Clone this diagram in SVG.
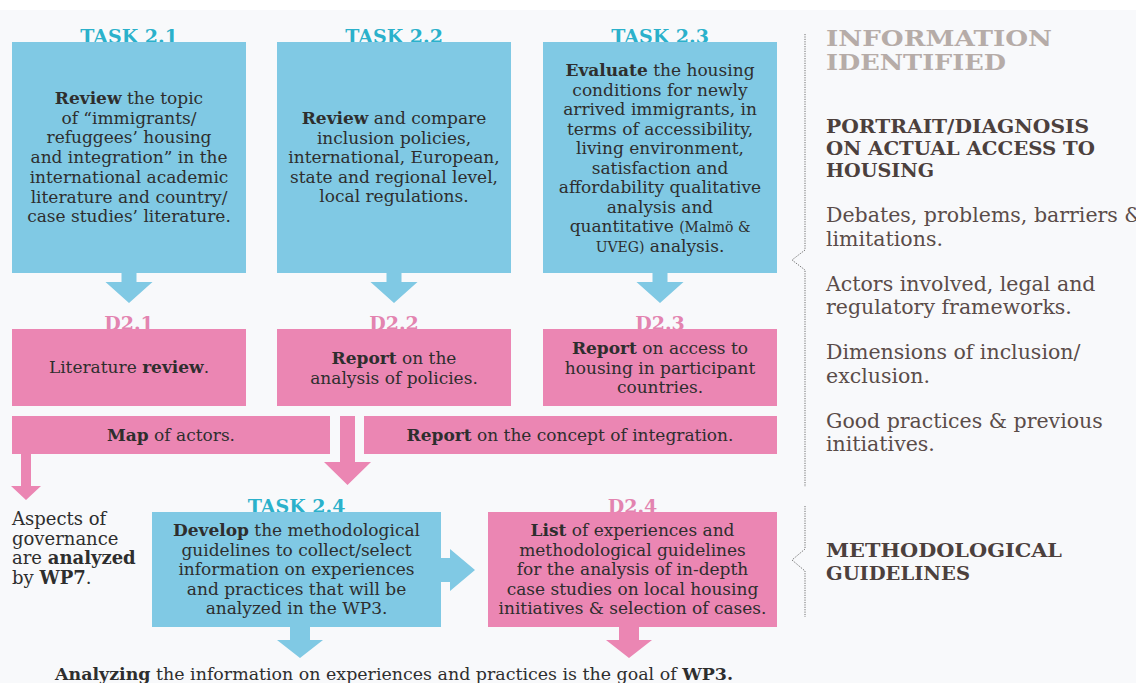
<svg xmlns="http://www.w3.org/2000/svg" width="1136" height="683" viewBox="0 0 1136 683">
<style>
.bg{fill:#f8f9fb}
.task{fill:#80c9e4}
.deliv{fill:#eb86b3}
.tl{font-family:"DejaVu Serif",serif;font-weight:bold;font-size:19px;fill:#2bb1cb;text-anchor:middle}
.dl{font-family:"DejaVu Serif",serif;font-weight:bold;font-size:19px;fill:#e384b0;text-anchor:middle}
.t{font-family:"DejaVu Serif",serif;font-size:17px;fill:#2e2e2e;text-anchor:middle}
.s{font-size:14px}
.b{font-weight:bold}
.l{font-family:"DejaVu Serif",serif;font-size:18px;fill:#2e2e2e}
.r{font-family:"DejaVu Serif",serif;font-size:20.5px;fill:#5a4c49}
.h{font-family:"DejaVu Serif",serif;font-weight:bold;font-size:18px;fill:#4c403d}
.hi{font-family:"DejaVu Serif",serif;font-weight:bold;font-size:22px;fill:#b6aca8}
.dot{fill:none;stroke:#6f6f6f;stroke-width:1;stroke-dasharray:1.2 1.2}
.ab{fill:#80c9e4}
.ap{fill:#eb86b3}
</style>
<rect x="0" y="0" width="1136" height="683" fill="#ffffff"/>
<rect class="bg" x="0" y="10" width="1136" height="673"/>

<g id="task21">
<text class="tl" x="129" y="43">TASK 2.1</text>
<rect class="task" x="12" y="42" width="234" height="231"/>
<text class="t" x="129" y="104"><tspan class="b">Review</tspan> the topic</text>
<text class="t" x="129" y="123.7">of “immigrants/</text>
<text class="t" x="129" y="143.4">refuggees’ housing</text>
<text class="t" x="129" y="163.1">and integration” in the</text>
<text class="t" x="129" y="182.8">international academic</text>
<text class="t" x="129" y="202.5">literature and country/</text>
<text class="t" x="129" y="222.2">case studies’ literature.</text>
</g>

<g id="task22">
<text class="tl" x="394" y="43">TASK 2.2</text>
<rect class="task" x="277" y="42" width="234" height="231"/>
<text class="t" x="394" y="124"><tspan class="b">Review</tspan> and compare</text>
<text class="t" x="394" y="143.5">inclusion policies,</text>
<text class="t" x="394" y="163">international, European,</text>
<text class="t" x="394" y="182.5">state and regional level,</text>
<text class="t" x="394" y="202">local regulations.</text>
</g>

<g id="task23">
<text class="tl" x="660" y="43">TASK 2.3</text>
<rect class="task" x="543" y="42" width="234" height="231"/>
<text class="t" x="660" y="76"><tspan class="b">Evaluate</tspan> the housing</text>
<text class="t" x="660" y="95.5">conditions for newly</text>
<text class="t" x="660" y="115">arrived immigrants, in</text>
<text class="t" x="660" y="134.5">terms of accessibility,</text>
<text class="t" x="660" y="154">living environment,</text>
<text class="t" x="660" y="173.5">satisfaction and</text>
<text class="t" x="660" y="193">affordability qualitative</text>
<text class="t" x="660" y="212.5">analysis and</text>
<text class="t" x="660" y="232">quantitative <tspan class="s">(Malmö &amp;</tspan></text>
<text class="t" x="660" y="251.5"><tspan class="s">UVEG)</tspan> analysis.</text>
</g>

<g id="d21">
<text class="dl" x="129" y="330">D2.1</text>
<rect class="deliv" x="12" y="329" width="234" height="77"/>
<text class="t" x="129" y="373">Literature <tspan class="b">review</tspan>.</text>
</g>

<g id="d22">
<text class="dl" x="394" y="330">D2.2</text>
<rect class="deliv" x="277" y="329" width="234" height="77"/>
<text class="t" x="394" y="364"><tspan class="b">Report</tspan> on the</text>
<text class="t" x="394" y="383.5">analysis of policies.</text>
</g>

<g id="d23">
<text class="dl" x="660" y="330">D2.3</text>
<rect class="deliv" x="543" y="329" width="234" height="77"/>
<text class="t" x="660" y="354"><tspan class="b">Report</tspan> on access to</text>
<text class="t" x="660" y="373.5">housing in participant</text>
<text class="t" x="660" y="393">countries.</text>
</g>

<g id="map">
<rect class="deliv" x="12" y="416" width="318" height="38"/>
<text class="t" x="171" y="441"><tspan class="b">Map</tspan> of actors.</text>
</g>

<g id="concept">
<rect class="deliv" x="364" y="416" width="413" height="38"/>
<text class="t" x="570" y="441"><tspan class="b">Report</tspan> on the concept of integration.</text>
</g>

<g id="aspects">
<text class="l" x="12" y="525">Aspects of</text>
<text class="l" x="12" y="544.5">governance</text>
<text class="l" x="12" y="564">are <tspan class="b">analyzed</tspan></text>
<text class="l" x="12" y="583.5">by <tspan class="b">WP7</tspan>.</text>
</g>

<g id="task24">
<text class="tl" x="296.5" y="513">TASK 2.4</text>
<rect class="task" x="152" y="512" width="289" height="115"/>
<text class="t" x="296.5" y="536"><tspan class="b">Develop</tspan> the methodological</text>
<text class="t" x="296.5" y="555.5">guidelines to collect/select</text>
<text class="t" x="296.5" y="575">information on experiences</text>
<text class="t" x="296.5" y="594.5">and practices that will be</text>
<text class="t" x="296.5" y="614">analyzed in the WP3.</text>
</g>

<g id="d24">
<text class="dl" x="632.5" y="513">D2.4</text>
<rect class="deliv" x="488" y="512" width="289" height="115"/>
<text class="t" x="632.5" y="536"><tspan class="b">List</tspan> of experiences and</text>
<text class="t" x="632.5" y="555.5">methodological guidelines</text>
<text class="t" x="632.5" y="575">for the analysis of in-depth</text>
<text class="t" x="632.5" y="594.5">case studies on local housing</text>
<text class="t" x="632.5" y="614">initiatives &amp; selection of cases.</text>
</g>

<g id="goal">
<text class="l" x="55" y="680" style="font-size:17px" textLength="678" lengthAdjust="spacingAndGlyphs"><tspan class="b">Analyzing</tspan> the information on experiences and practices is the goal of <tspan class="b">WP3.</tspan></text>
</g>

<g id="info">
<text class="hi" x="826" y="46" textLength="226" lengthAdjust="spacingAndGlyphs">INFORMATION</text>
<text class="hi" x="826" y="70" textLength="180" lengthAdjust="spacingAndGlyphs">IDENTIFIED</text>
</g>

<g id="portrait">
<text class="h" x="826" y="133" textLength="263" lengthAdjust="spacingAndGlyphs">PORTRAIT/DIAGNOSIS</text>
<text class="h" x="826" y="155" textLength="269" lengthAdjust="spacingAndGlyphs">ON ACTUAL ACCESS TO</text>
<text class="h" x="826" y="177" textLength="108" lengthAdjust="spacingAndGlyphs">HOUSING</text>
<text class="r" x="826" y="222">Debates, problems, barriers &amp;</text>
<text class="r" x="826" y="246">limitations.</text>
<text class="r" x="826" y="291">Actors involved, legal and</text>
<text class="r" x="826" y="314">regulatory frameworks.</text>
<text class="r" x="826" y="359">Dimensions of inclusion/</text>
<text class="r" x="826" y="383">exclusion.</text>
<text class="r" x="826" y="428">Good practices &amp; previous</text>
<text class="r" x="826" y="451">initiatives.</text>
</g>

<g id="method">
<text class="h" x="826" y="557" textLength="236" lengthAdjust="spacingAndGlyphs">METHODOLOGICAL</text>
<text class="h" x="826" y="580" textLength="144" lengthAdjust="spacingAndGlyphs">GUIDELINES</text>
</g>

<g id="connectors">
<polygon class="ab" points="121.5,273 136.5,273 136.5,282 152.5,282 129,303 105.5,282 121.5,282"/>
<polygon class="ab" points="386.5,273 401.5,273 401.5,282 417.5,282 394,303 370.5,282 386.5,282"/>
<polygon class="ab" points="652.5,273 667.5,273 667.5,282 683.5,282 660,303 636.5,282 652.5,282"/>
<polygon class="ap" points="340,416 355,416 355,462 371,462 347.5,485 324,462 340,462"/>
<polygon class="ap" points="21,454 31,454 31,486 41,486 26,500 11,486 21,486"/>
<polygon class="ab" points="441,558 450,558 450,549 475,570 450,591 450,582 441,582"/>
<polygon class="ab" points="290,627 310,627 310,640 323,640 300,658 277,640 290,640"/>
<polygon class="ap" points="619,627 639,627 639,640 652,640 629,658 606,640 619,640"/>
<polyline class="dot" points="805,34 805,250 792,260 805,270 805,487"/>
<polyline class="dot" points="805,506 805,549 792,560 805,571 805,617"/>
</g>
</svg>
